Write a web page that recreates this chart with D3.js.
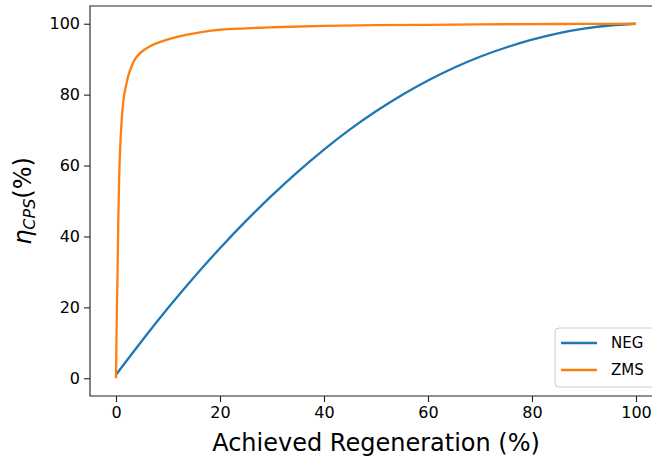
<html>

<head>
    <meta charset="utf-8">
    <style>
        html, body { margin: 0; padding: 0; background: #fff; overflow: hidden; }
        svg { display: block; }
        text { font-family: "DejaVu Sans", sans-serif; fill: #000; }
    </style>
    <script src="https://d3js.org/d3.v7.min.js"></script>
</head>

<body>
    <svg width="652" height="461"></svg>
    <script>
        // achieved regeneration (%) vs eta_CPS (%)
        const negX = [0, 5, 10, 15, 20, 25, 30, 35, 40, 45, 50, 55, 60, 65, 70, 75, 80, 85, 90, 95, 100];
        const negY = [1, 10.6, 19.8, 28.5, 36.7, 44.4, 51.6, 58.3, 64.5, 70.2, 75.3, 79.9, 84, 87.6, 90.7, 93.3, 95.5, 97.3, 98.6, 99.5, 100];

        const zmsX = [0, 0.1, 0.2, 0.3, 0.45, 0.6, 0.9, 1.4, 2, 2.4, 3, 3.65, 4.5, 5.6, 7, 8.8, 11, 14, 17, 20, 25, 30, 40, 50, 60, 70, 80, 90, 100];
        const zmsY = [0, 12, 22, 30, 45, 56, 68, 78, 83, 85.5, 88, 90, 91.5, 92.8, 94, 95, 96, 97, 97.8, 98.3, 98.7, 99, 99.4, 99.6, 99.7, 99.8, 99.9, 99.95, 100];

        const xTicks = [0, 20, 40, 60, 80, 100];
        const yTicks = [0, 20, 40, 60, 80, 100];
        const seriesNames = ['NEG', 'ZMS'];
        const colors = ['#1f77b4', '#ff7f0e'];

        const svg = d3.select('svg');
        const margin = { top: 6, right: -10, bottom: 65, left: 90 };
        const width = 652, height = 461;

        const x = d3.scaleLinear()
            .domain([-5, 105])
            .range([margin.left, width - margin.right]);
        const y = d3.scaleLinear()
            .domain([-5, 105])
            .range([height - margin.bottom, margin.top]);

        const series = [
            negX.map((v, i) => [v, negY[i]]),
            zmsX.map((v, i) => [v, zmsY[i]])
        ];
        const curves = [d3.curveNatural, d3.curveMonotoneX];

        series.forEach((s, i) => {
            const line = d3.line()
                .x(d => x(d[0]))
                .y(d => y(d[1]))
                .curve(curves[i]);
            svg.append('path')
                .datum(s)
                .attr('fill', 'none')
                .attr('stroke', colors[i])
                .attr('stroke-width', 2.3)
                .attr('stroke-linejoin', 'round')
                .attr('d', line);
        });

        // axes
        const gx = svg.append('g')
            .attr('transform', `translate(0, ${y(-5)})`)
            .call(d3.axisBottom(x).tickValues(xTicks).tickSize(6).tickPadding(5).tickSizeOuter(0));
        const gy = svg.append('g')
            .attr('transform', `translate(${x(-5)}, 0)`)
            .call(d3.axisLeft(y).tickValues(yTicks).tickSize(6).tickPadding(4).tickSizeOuter(0));
        [gx, gy].forEach(g => {
            g.select('.domain').remove();
            g.selectAll('.tick line').attr('stroke', '#222').attr('stroke-width', 1.1);
            g.selectAll('.tick text')
                .style('font-family', '"DejaVu Sans", sans-serif')
                .style('font-size', '16px')
                .attr('fill', '#000');
        });

        // spines: the right one lies outside the picture, as in the original
        const x0 = x(-5), x1 = x(105), y0 = y(-5), y1 = y(105);
        svg.append('path')
            .attr('d', `M${x1},${y0}H${x0}V${y1}H${x1}`)
            .attr('fill', 'none')
            .attr('stroke', '#222')
            .attr('stroke-width', 1.1);

        // axis labels
        svg.append('text')
            .attr('x', (x0 + x1) / 2)
            .attr('y', 451)
            .attr('text-anchor', 'middle')
            .style('font-size', '24px')
            .text('Achieved Regeneration (%)');

        const yl = svg.append('text')
            .attr('transform', `translate(31, ${(y0 + y1) / 2}) rotate(-90)`)
            .attr('text-anchor', 'middle')
            .style('font-size', '24px');
        yl.append('tspan').style('font-style', 'italic').text('η');
        yl.append('tspan').attr('dy', 4).style('font-style', 'italic').style('font-size', '16px').text('CPS');
        yl.append('tspan').attr('dy', -4).text('(%)');

        // legend
        const lg = svg.append('g').attr('transform', 'translate(555, 328)');
        lg.append('path')
            .attr('d', 'M110,0H4Q0,0 0,4V55Q0,59 4,59H110')
            .attr('fill', '#fff').attr('fill-opacity', 0.8)
            .attr('stroke', '#ccc');
        seriesNames.forEach((n, i) => {
            const yy = 15 + i * 27;
            lg.append('line')
                .attr('x1', 6).attr('x2', 42)
                .attr('y1', yy).attr('y2', yy)
                .attr('stroke', colors[i]).attr('stroke-width', 2.3);
            lg.append('text')
                .attr('x', 56).attr('y', yy)
                .attr('dy', '0.36em')
                .style('font-size', '15px')
                .text(n);
        });
    </script>
</body>

</html>
